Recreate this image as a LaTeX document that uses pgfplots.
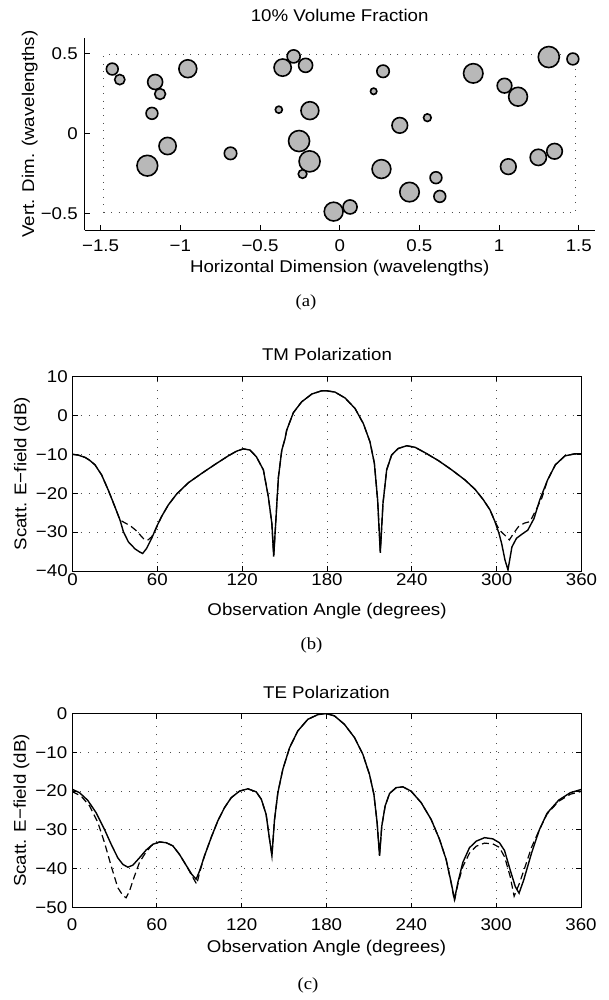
\documentclass[border=0pt]{standalone}
\usepackage{fontspec}
\setmainfont{Liberation Sans}[FakeStretch=1.1]
\newfontfamily\capfont{Liberation Serif}[FakeStretch=1.1]
\usepackage{pgfplots}
\pgfplotsset{compat=1.18}
\pgfplotsset{
  myax/.style={
    scale only axis, anchor=south west,
    tick align=inside, major tick length=2.5pt,
    axis line style={line width=0.5pt},
    every tick/.style={black, line width=0.5pt},
    /pgf/number format/assume math mode=true,
    every axis title/.style={at={(axis description cs:0.5,1)}, anchor=base, inner sep=0pt, yshift=7.9pt},
  },
  curvax/.style={
    myax, width=254.5pt, xmin=0, xmax=360, xtick={0,60,...,360},
    grid=major, grid style={black!70, line width=0.45pt, dash pattern=on 0.5pt off 3.6pt},
    xlabel={Observation Angle (degrees)},
    ylabel={Scatt. E−field (dB)},
    ylabel style={at={(axis description cs:-0.1157,0.5)}, anchor=north, inner sep=0pt},
    yticklabel style={anchor=east, inner sep=0pt, xshift=-2.2pt},
  },
  sol/.style={black, line width=0.7pt},
  dsh/.style={black, line width=0.6pt, dash pattern=on 3.5pt off 2pt},
}
\begin{document}
\fontsize{8.5}{10.2}\selectfont
\begin{tikzpicture}[x=1pt,y=1pt]
\useasboundingbox (0,0) rectangle (304.5,-500);

% ---------------- (a) ----------------
\begin{axis}[myax, at={(42.35pt,-115pt)}, width=255pt, height=96pt,
  xmin=-1.6, xmax=1.6, ymin=-0.6, ymax=0.6,
  axis x line*=bottom, axis y line*=left, axis line style={-},
  xtick={-1.5,-1,-0.5,0,0.5,1,1.5}, xticklabels={−1.5,−1,−0.5,0,0.5,1,1.5},
  ytick={-0.5,0,0.5}, yticklabels={−0.5,0,0.5},
  xticklabel style={anchor=north, inner sep=0pt, yshift=-4.5pt},
  yticklabel style={anchor=east, inner sep=0pt, xshift=-3.3pt},
  every axis title/.style={at={(axis description cs:0.5,1)}, anchor=base, inner sep=0pt, yshift=8.1pt},
  title={10\% Volume Fraction},
  xlabel={Horizontal Dimension (wavelengths)},
  xlabel style={at={(axis description cs:0.5,0)}, anchor=north, inner sep=0pt, yshift=-15pt},
  ylabel={Vert. Dim. (wavelengths)},
  ylabel style={at={(axis description cs:-0.124,0.5)}, anchor=north, inner sep=0pt},
]
\addplot[black!70, line width=0.5pt, dash pattern=on 0.5pt off 3.2pt] coordinates {(-1.48,-0.49) (1.48,-0.49) (1.48,0.495) (-1.48,0.495) (-1.48,-0.49)};
\addplot[scatter, only marks, mark=*, point meta=\thisrow{r},
  scatter/use mapped color={draw=black, fill=black!28},
  visualization depends on={79.7*\thisrow{r} \as \rad},
  scatter/@pre marker code/.append style={/tikz/mark size=\rad},
  mark options={line width=0.8pt}] table {
x y r
-1.427 0.406 0.037
-1.380 0.340 0.032
-1.158 0.325 0.047
-1.127 0.250 0.034
-1.178 0.129 0.037
-0.953 0.408 0.056
-1.080 -0.075 0.054
-1.207 -0.198 0.065
-0.685 -0.121 0.039
-0.289 0.485 0.041
-0.358 0.415 0.054
-0.214 0.429 0.044
-0.382 0.152 0.022
-0.187 0.146 0.056
-0.255 -0.044 0.066
-0.189 -0.171 0.066
-0.233 -0.250 0.027
-0.038 -0.485 0.059
0.065 -0.456 0.044
0.213 0.267 0.020
0.272 0.392 0.039
0.377 0.054 0.049
0.550 0.102 0.024
0.262 -0.219 0.059
0.438 -0.363 0.061
0.604 -0.273 0.037
0.628 -0.390 0.037
0.838 0.379 0.061
1.034 0.302 0.046
1.119 0.233 0.059
1.312 0.481 0.066
1.463 0.469 0.037
1.058 -0.204 0.049
1.246 -0.146 0.051
1.348 -0.108 0.049
};
\end{axis}

% ---------------- (b) ----------------
\begin{axis}[curvax, at={(36.25pt,-285.5pt)}, height=97.25pt,
  ymin=-40, ymax=10, ytick={-40,-30,...,10}, yticklabels={−40,−30,−20,−10,0,10},
  xticklabel style={anchor=north, inner sep=0pt, yshift=-1pt},
  xlabel style={at={(axis description cs:0.5,0)}, anchor=north, inner sep=0pt, yshift=-16pt},
  title={TM Polarization},
]
\addplot[dsh] table {
x y
0 -10
4 -10.2
8.9 -10.8
12 -11.5
15.9 -12.7
20.6 -15.3
25.3 -19.2
30 -23.5
33.6 -26.9
37 -27.6
41 -28.4
45 -29.6
48 -30.8
51 -32.0
53.5 -32.0
56 -31.2
58.5 -29.6
61 -27.6
63 -26.0
67.8 -23.0
73.7 -20.2
82 -17.3
91.4 -14.9
100.8 -12.6
110.2 -10.4
116 -9.2
120.8 -8.6
125.5 -8.9
130 -10.6
135 -14
138.5 -20.9
141 -27.8
142.3 -36.0
143.7 -27.8
145.6 -16
148 -9
150.3 -6.0
151.5 -3.8
156.2 0.7
162.1 3.5
169.3 5.5
176 6.3
180.2 6.3
185.6 6.0
192.7 4.5
199.8 1.8
205.7 -2.1
210.4 -6.8
213.5 -12.3
215.8 -21.7
217.7 -35.0
219.6 -22.6
222.2 -14
225.7 -10.2
230.4 -8.5
236.4 -7.8
242.3 -8.2
249.4 -9.6
258.7 -11.6
268.2 -14
277.6 -16.6
284.7 -19
290.6 -21.7
295.3 -24.3
298.8 -27.3
302 -29.5
305.8 -30.8
309 -32
312 -30.3
315.4 -28.6
319.5 -27.7
323.6 -27.3
327.8 -24.3
331.9 -21.3
336 -16.6
341.5 -12.7
348.3 -10.4
355 -9.9
360 -9.9
};
\addplot[sol] table {
x y
0 -10
4 -10.2
8.9 -10.8
12 -11.5
15.9 -12.7
20.6 -15.3
25.3 -19.2
30 -23.5
33.6 -26.9
36 -29.9
39.5 -32.5
44.2 -34.3
47 -35.0
49.6 -35.5
52.4 -34.2
56 -31.6
59.5 -28.6
63 -26.0
67.8 -23.0
73.7 -20.2
82 -17.3
91.4 -14.9
100.8 -12.6
110.2 -10.4
116 -9.2
120.8 -8.6
125.5 -8.9
130 -10.6
135 -14
138.5 -20.9
141 -27.8
142.3 -36.3
143.7 -27.8
145.6 -16
148 -9
150.3 -6.0
151.5 -3.8
156.2 0.7
162.1 3.5
169.3 5.5
176 6.3
180.2 6.3
185.6 6.0
192.7 4.5
199.8 1.8
205.7 -2.1
210.4 -6.8
213.5 -12.3
215.8 -21.7
217.7 -35.3
219.6 -22.6
222.2 -14
225.7 -10.2
230.4 -8.5
236.4 -7.8
242.3 -8.2
249.4 -9.6
258.7 -11.6
268.2 -14
277.6 -16.6
284.7 -19
290.6 -21.7
295.3 -24.3
298.8 -27.3
301.6 -30.3
303.5 -32.9
305.9 -37.2
308 -39.7
310.8 -33.8
314 -31.6
318 -30.5
322 -29.5
326.4 -26.5
330.5 -21.7
336 -16.6
341.5 -12.7
348.3 -10.4
355 -9.9
360 -9.9
};
\end{axis}

% ---------------- (c) ----------------
\begin{axis}[curvax, at={(36pt,-453.75pt)}, height=97pt,
  ymin=-50, ymax=0, ytick={-50,-40,...,0}, yticklabels={−50,−40,−30,−20,−10,0},
  xticklabel style={anchor=north, inner sep=0pt, yshift=-5.2pt},
  xlabel style={at={(axis description cs:0.5,0)}, anchor=north, inner sep=0pt, yshift=-16.25pt},
  every axis title/.style={at={(axis description cs:0.5,1)}, anchor=base, inner sep=0pt, yshift=7.75pt},
  title={TE Polarization},
]
\addplot[dsh] table {
x y
0 -20.1
6.5 -21.3
12.4 -23.8
18.3 -28.1
23 -33.3
27.7 -39.3
32.4 -44.9
36 -46.9
38.3 -47.5
40.7 -45.7
44.2 -41.9
47.7 -38.4
51.3 -36.3
56 -34.1
61.9 -33.1
66.6 -33.3
71.3 -34.1
76 -36.3
80.7 -39.1
84.8 -41.8
88.2 -44.0
90.4 -40.8
93.7 -36.7
98.4 -32
103.1 -27.7
107.8 -24.3
112.6 -21.7
118.5 -20.0
124.4 -19.4
130.3 -20.2
133.9 -22.1
137.3 -26
139.7 -32.4
141.4 -36.5
143.2 -27.5
145.6 -20.4
149.1 -14.4
153.9 -8.8
159.7 -4.5
166.8 -1.5
173.8 -0.3
179.3 0
185.6 -0.6
192.7 -2.8
199.8 -6.2
205.7 -10.5
210.4 -15.7
213.5 -20.8
215.8 -28.1
217.5 -36.5
219.1 -29
221.5 -23.8
224.6 -20.6
229.3 -19.1
234 -18.9
239.8 -20
247 -23
254 -27.3
259.9 -32.4
264.6 -37.6
268.2 -43.8
270.5 -48.3
272.9 -44
276.4 -39.5
281.1 -36
285.9 -34.2
291.8 -33.4
297.6 -33.6
302.3 -34.5
306 -37
309.9 -42
312.7 -47.1
316.2 -44
320 -40
325 -34.5
330.5 -30
336 -25.9
344.3 -22.6
352.5 -20.8
360 -20.1
};
\addplot[sol] table {
x y
0 -19.5
5.3 -20.4
11.2 -22.4
17.1 -25.6
23 -29.9
27.7 -33.7
32.4 -37.2
36 -38.9
39.5 -39.6
43 -39.1
47.7 -37.2
52.4 -35.2
57.2 -33.7
61.9 -33.1
66.6 -33.3
71.3 -34.1
76 -36.3
80.7 -39.1
84.8 -41.5
87.8 -42.7
90.2 -40.6
93.7 -36.7
98.4 -32
103.1 -27.7
107.8 -24.3
112.6 -21.7
118.5 -20.0
124.4 -19.4
130.3 -20.2
133.9 -22.1
137.3 -26
139.7 -32.4
141.4 -36.7
143.2 -27.5
145.6 -20.4
149.1 -14.4
153.9 -8.8
159.7 -4.5
166.8 -1.5
173.8 -0.3
179.3 0
185.6 -0.6
192.7 -2.8
199.8 -6.2
205.7 -10.5
210.4 -15.7
213.5 -20.8
215.8 -28.1
217.5 -36.7
219.1 -29
221.5 -23.8
224.6 -20.6
229.3 -19.1
234 -18.9
239.8 -20
247 -23
254 -27.3
259.9 -32.4
264.6 -37.6
268.2 -43.6
270.5 -47.9
272.9 -43.6
276.4 -38.4
281.1 -34.6
285.9 -32.9
291.8 -32
297.6 -32.3
302.3 -33.3
305.9 -35.3
309.9 -40.3
313.5 -44.6
316.2 -46.3
319.5 -42.9
325 -36
330.5 -30
336 -25.7
344.3 -22.3
352.5 -20.4
360 -19.6
};
\end{axis}

\node[font=\capfont\fontsize{8.5}{10.2}\selectfont, anchor=center, inner sep=0pt] at (153,-151) {(a)};
\node[font=\capfont\fontsize{8.5}{10.2}\selectfont, anchor=center, inner sep=0pt] at (155.75,-322.5) {(b)};
\node[font=\capfont\fontsize{8.5}{10.2}\selectfont, anchor=center, inner sep=0pt] at (154,-492.5) {(c)};
\end{tikzpicture}
\end{document}
